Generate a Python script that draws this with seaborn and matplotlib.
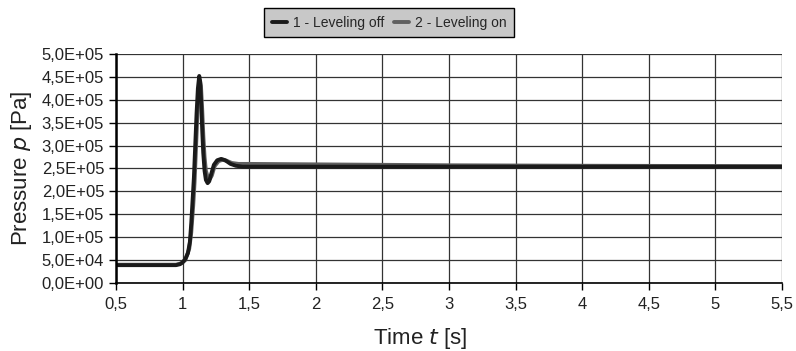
import matplotlib
matplotlib.use("Agg")
import numpy as np
import pandas as pd
import seaborn as sns
import matplotlib.pyplot as plt

sns.set_theme(style='white')
plt.rcParams['font.family'] = ['Liberation Sans', 'DejaVu Sans']

# series 1 - leveling off (time in s, pressure in 1e5 Pa)
t_off = [0.5, 0.95, 0.98, 1.00, 1.02, 1.04, 1.055, 1.065, 1.075, 1.085, 1.095, 1.105,
         1.115, 1.125, 1.132, 1.14, 1.148, 1.155, 1.165, 1.175, 1.188, 1.2, 1.215,
         1.235, 1.26, 1.29, 1.32, 1.36, 1.40, 1.45, 2.0, 3.0, 4.0, 5.0, 5.53]
p_off = [0.39, 0.39, 0.41, 0.45, 0.52, 0.65, 0.9, 1.3, 1.8, 2.3, 3.0, 3.7,
         4.25, 4.52, 4.4, 3.9, 3.3, 2.85, 2.45, 2.25, 2.18, 2.22, 2.38,
         2.58, 2.68, 2.71, 2.68, 2.6, 2.56, 2.54, 2.54, 2.54, 2.54, 2.54, 2.54]

# series 2 - leveling on
t_on = [0.5, 0.95, 0.99, 1.02, 1.05, 1.065, 1.08, 1.09, 1.10, 1.11, 1.12, 1.13,
        1.138, 1.147, 1.156, 1.165, 1.175, 1.19, 1.205, 1.22, 1.24, 1.27, 1.30,
        1.33, 1.37, 1.42, 1.5, 2.0, 3.0, 4.0, 5.53]
p_on = [0.40, 0.40, 0.43, 0.5, 0.75, 1.1, 1.7, 2.2, 2.9, 3.6, 4.15, 4.42,
        4.3, 3.8, 3.2, 2.75, 2.45, 2.3, 2.27, 2.35, 2.55, 2.66, 2.69,
        2.67, 2.62, 2.6, 2.6, 2.59, 2.57, 2.56, 2.55]

labels = ['1 - Leveling off', '2 - Leveling on']
x_ticks = [0.5, 1, 1.5, 2, 2.5, 3, 3.5, 4, 4.5, 5, 5.5]
y_ticks = [0, 5e4, 1e5, 1.5e5, 2e5, 2.5e5, 3e5, 3.5e5, 4e5, 4.5e5, 5e5]

df = pd.concat([
    pd.DataFrame({'t': t_off, 'p': np.array(p_off) * 1e5, 'series': labels[0]}),
    pd.DataFrame({'t': t_on, 'p': np.array(p_on) * 1e5, 'series': labels[1]}),
])
colors = {labels[0]: '#1a1a1a', labels[1]: '#606060'}

fig = plt.figure(figsize=(7.96, 3.51), dpi=100)
ax = fig.add_axes([0.1457, 0.1937, 0.8367, 0.6525])

sns.lineplot(data=df, x='t', y='p', hue='series', hue_order=labels[::-1],
             palette=colors, sort=False, estimator=None, linewidth=2.8,
             ax=ax, legend=False)

ax.set_xlim(0.5, 5.5)
ax.set_ylim(0, 5e5)
ax.set_xticks(x_ticks)
ax.set_xticklabels([('%g' % v).replace('.', ',') for v in x_ticks])
ax.set_yticks(y_ticks)
ax.set_yticklabels([('%.1E' % v).replace('.', ',') for v in y_ticks])
ax.grid(True, color='#333333', linewidth=0.9)
ax.set_axisbelow(True)
for side in ['top', 'right']:
    ax.spines[side].set_visible(False)
ax.spines['left'].set_color('black')
ax.spines['left'].set_linewidth(1.8)
ax.spines['bottom'].set_color('black')
ax.spines['bottom'].set_linewidth(1.2)
ax.tick_params(axis='both', which='major', direction='out', length=5, width=1,
               color='black', labelsize=12, labelcolor='#222222', bottom=True, left=True)
ax.tick_params(axis='x', pad=5)

ax.set_xlabel('Time $\\it{t}$ [s]', fontsize=16, color='#222222')
ax.xaxis.label.set_va('baseline')
ax.xaxis.set_label_coords(0.4565, -0.268)
ax.set_ylabel('Pressure $\\it{p}$ [Pa]', fontsize=16, color='#222222')
ax.yaxis.label.set_va('center')
ax.yaxis.set_label_coords(-0.1426, 0.5)

handles = [plt.Line2D([], [], color=colors[l], lw=2.8) for l in labels]
leg = fig.legend(handles, labels, loc='center', bbox_to_anchor=(0.489, 0.935), ncol=2,
                 frameon=True, fancybox=False, fontsize=10, handlelength=1.1,
                 handletextpad=0.45, columnspacing=0.65, borderpad=0.55)
leg.get_frame().set_facecolor('#c8c8c8')
leg.get_frame().set_edgecolor('black')
leg.get_frame().set_linewidth(1.0)
leg.get_frame().set_alpha(1)

fig.savefig('out.png', dpi=100)
